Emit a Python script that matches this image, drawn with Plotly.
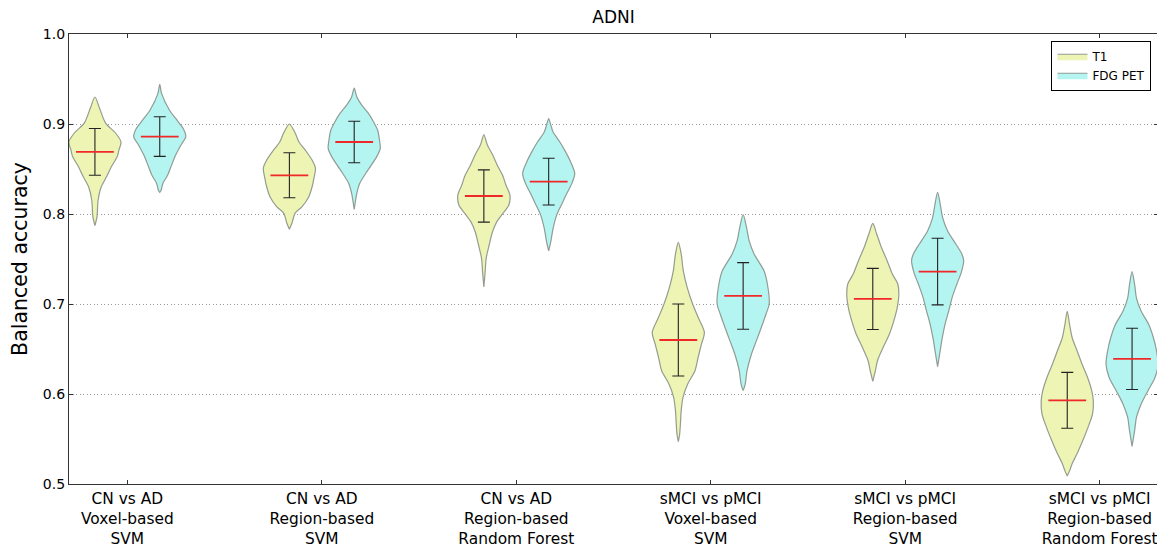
import plotly.graph_objects as go

# ---------------- data ----------------
CATEGORIES = [
    "CN vs AD<br>Voxel-based<br>SVM",
    "CN vs AD<br>Region-based<br>SVM",
    "CN vs AD<br>Region-based<br>Random Forest",
    "sMCI vs pMCI<br>Voxel-based<br>SVM",
    "sMCI vs pMCI<br>Region-based<br>SVM",
    "sMCI vs pMCI<br>Region-based<br>Random Forest",
]
SERIES = ["T1", "FDG PET"]

T1_MEAN = [0.869, 0.843, 0.820, 0.660, 0.7056, 0.593]
T1_STD = [0.026, 0.025, 0.029, 0.040, 0.034, 0.031]
FDG_MEAN = [0.886, 0.880, 0.836, 0.709, 0.736, 0.639]
FDG_STD = [0.022, 0.023, 0.026, 0.037, 0.037, 0.034]

# violin profiles: accuracy levels (top -> bottom) and relative density width
T1_PROFILE_Y = [
    [0.930, 0.919, 0.901, 0.890, 0.880, 0.871, 0.864, 0.853, 0.841, 0.830, 0.815, 0.797, 0.787],
    [0.900, 0.890, 0.880, 0.871, 0.860, 0.851, 0.841, 0.830, 0.819, 0.808, 0.801, 0.790, 0.783],
    [0.888, 0.877, 0.866, 0.854, 0.843, 0.832, 0.821, 0.810, 0.801, 0.791, 0.780, 0.765, 0.751, 0.736, 0.719],
    [0.7685, 0.7556, 0.737, 0.7185, 0.700, 0.6852, 0.6685, 0.6556, 0.6407, 0.6259, 0.6111, 0.5963, 0.5815, 0.5667, 0.555, 0.547],
    [0.7896, 0.7778, 0.763, 0.7481, 0.7333, 0.7222, 0.7111, 0.6963, 0.6815, 0.6667, 0.6519, 0.637, 0.6259, 0.614],
    [0.6919, 0.6772, 0.6625, 0.6478, 0.6331, 0.6184, 0.6037, 0.5926, 0.5779, 0.5632, 0.5485, 0.5338, 0.5228, 0.5154, 0.5088],
]
T1_PROFILE_W = [
    [0, 0.16, 0.41, 0.79, 1.0, 0.92, 0.86, 0.64, 0.44, 0.24, 0.12, 0.08, 0],
    [0, 0.22, 0.37, 0.61, 0.87, 1.0, 0.95, 0.87, 0.74, 0.48, 0.22, 0.10, 0],
    [0, 0.13, 0.33, 0.52, 0.72, 0.85, 1.0, 0.96, 0.74, 0.49, 0.33, 0.20, 0.09, 0.05, 0],
    [0, 0.11, 0.19, 0.34, 0.55, 0.76, 1.0, 0.89, 0.76, 0.64, 0.36, 0.18, 0.11, 0.08, 0.05, 0],
    [0, 0.15, 0.33, 0.55, 0.75, 0.96, 1.0, 0.94, 0.81, 0.64, 0.40, 0.18, 0.10, 0],
    [0, 0.09, 0.19, 0.38, 0.57, 0.78, 0.94, 1.0, 0.97, 0.80, 0.60, 0.38, 0.19, 0.10, 0],
]
FDG_PROFILE_Y = [
    [0.944, 0.934, 0.9155, 0.904, 0.895, 0.886, 0.877, 0.866, 0.854, 0.843, 0.834, 0.826, 0.824],
    [0.940, 0.930, 0.921, 0.912, 0.9025, 0.893, 0.882, 0.873, 0.864, 0.854, 0.845, 0.834, 0.823, 0.805],
    [0.906, 0.899, 0.891, 0.880, 0.869, 0.858, 0.845, 0.834, 0.823, 0.812, 0.799, 0.784, 0.769, 0.759],
    [0.7993, 0.7852, 0.7704, 0.7556, 0.737, 0.7222, 0.700, 0.6889, 0.6741, 0.6593, 0.6444, 0.6259, 0.6111, 0.6037],
    [0.8241, 0.8111, 0.7963, 0.7815, 0.7667, 0.7556, 0.7481, 0.7352, 0.7222, 0.7074, 0.6926, 0.6778, 0.6593, 0.6481, 0.6304],
    [0.736, 0.7213, 0.7066, 0.6919, 0.6772, 0.6625, 0.6478, 0.633, 0.6184, 0.6037, 0.589, 0.5743, 0.5596, 0.5419],
]
FDG_PROFILE_W = [
    [0, 0.07, 0.37, 0.67, 0.90, 1.0, 0.82, 0.62, 0.45, 0.30, 0.12, 0.05, 0],
    [0, 0.10, 0.29, 0.54, 0.74, 0.90, 0.97, 1.0, 0.87, 0.65, 0.44, 0.21, 0.10, 0],
    [0, 0.08, 0.17, 0.43, 0.65, 0.84, 1.0, 0.89, 0.70, 0.52, 0.31, 0.17, 0.08, 0],
    [0, 0.13, 0.23, 0.42, 0.80, 0.93, 1.0, 0.88, 0.70, 0.51, 0.32, 0.15, 0.08, 0],
    [0, 0.10, 0.19, 0.38, 0.70, 0.93, 1.0, 0.91, 0.74, 0.56, 0.43, 0.29, 0.16, 0.10, 0],
    [0, 0.10, 0.17, 0.35, 0.64, 0.82, 0.94, 1.0, 0.88, 0.61, 0.35, 0.17, 0.10, 0],
]
Y_TICKS = [0.5, 0.6, 0.7, 0.8, 0.9, 1.0]
Y_TICK_TEXT = ["0.5", "0.6", "0.7", "0.8", "0.9", "1.0"]

# ---------------- styling ----------------
FONT = "DejaVu Sans, Liberation Sans, sans-serif"
OFFSET = 1 / 6          # distance of each violin from group tick
HALF_WIDTH = 0.134      # maximal violin half width (x units)
FILL = {"T1": "rgb(238,245,180)", "FDG PET": "rgb(180,245,242)"}
EDGE = "rgba(130,140,130,0.85)"

# the page body has an 8px default margin, so the figure is sized to fill
# the 1165x549 window exactly from (8, 8)
FIG_W, FIG_H = 1157, 541

fig = go.Figure()

series_data = [
    ("T1", -OFFSET, T1_MEAN, T1_STD, T1_PROFILE_Y, T1_PROFILE_W),
    ("FDG PET", OFFSET, FDG_MEAN, FDG_STD, FDG_PROFILE_Y, FDG_PROFILE_W),
]

for name, off, means, stds, prof_y, prof_w in series_data:
    for i in range(len(CATEGORIES)):
        pos = i + 1 + off
        ys = prof_y[i]
        ws = prof_w[i]
        xs_right = [pos + w * HALF_WIDTH for w in ws]
        xs_left = [pos - w * HALF_WIDTH for w in ws[::-1]]
        fig.add_trace(go.Scatter(
            x=xs_right + xs_left,
            y=ys + ys[::-1],
            mode="lines",
            fill="toself",
            fillcolor=FILL[name],
            line=dict(color=EDGE, width=1.2, shape="spline", smoothing=0.8),
            name=name,
            legendgroup=name,
            showlegend=False,
            hoverinfo="skip",
        ))

# legend-only patches
for name in SERIES:
    fig.add_trace(go.Scatter(
        x=[None], y=[None],
        mode="lines",
        fill="toself",
        fillcolor=FILL[name],
        line=dict(color=EDGE, width=1.2),
        name=name,
        legendgroup=name,
        showlegend=True,
        hoverinfo="skip",
    ))

# error bars (std)
for name, off, means, stds, prof_y, prof_w in series_data:
    fig.add_trace(go.Scatter(
        x=[i + 1 + off for i in range(len(CATEGORIES))],
        y=means,
        mode="markers",
        marker=dict(size=1, color="rgba(0,0,0,0)"),
        error_y=dict(type="data", array=stds, visible=True, color="#222222",
                     thickness=1.1, width=6),
        showlegend=False,
        hoverinfo="skip",
    ))

# means (red)
for name, off, means, stds, prof_y, prof_w in series_data:
    fig.add_trace(go.Scatter(
        x=[i + 1 + off for i in range(len(CATEGORIES))],
        y=means,
        mode="markers",
        marker=dict(symbol="line-ew", size=27,
                    line=dict(color="rgb(240,40,40)", width=1.8)),
        showlegend=False,
        hoverinfo="skip",
    ))

fig.update_layout(
    width=FIG_W,
    height=FIG_H,
    margin=dict(l=61, r=7, t=26, b=65, autoexpand=False),
    paper_bgcolor="white",
    plot_bgcolor="white",
    font=dict(family=FONT, color="black", size=15),
    title=dict(text="ADNI", x=0.5, xref="paper", xanchor="center",
               y=1 - 9 / FIG_H, yref="container", yanchor="middle",
               font=dict(size=17, family=FONT, color="black")),
    legend=dict(
        x=0.994, y=0.985, xanchor="right", yanchor="top",
        bordercolor="black", borderwidth=1, bgcolor="white",
        font=dict(size=12, family=FONT),
        itemwidth=30, tracegroupgap=0,
    ),
    showlegend=True,
)

fig.update_xaxes(
    range=[0.7, 6.3],
    tickmode="array",
    tickvals=list(range(1, len(CATEGORIES) + 1)),
    ticktext=CATEGORIES,
    ticks="inside", ticklen=4, tickcolor="#333333",
    showline=True, linecolor="#333333", linewidth=1.3, mirror="ticks",
    showgrid=False, zeroline=False, automargin=False,
    tickfont=dict(size=15.4, family=FONT),
)
fig.update_yaxes(
    range=[0.5, 1.0],
    tickmode="array",
    tickvals=Y_TICKS,
    ticktext=Y_TICK_TEXT,
    ticks="inside", ticklen=4, tickcolor="#333333",
    showline=True, linecolor="#333333", linewidth=1.3, mirror="ticks",
    showgrid=True, gridcolor="#999999", griddash="1px,2.5px", gridwidth=1,
    zeroline=False, automargin=False,
    tickfont=dict(size=14, family=FONT),
    title=dict(text="Balanced accuracy", font=dict(size=20.5, family=FONT), standoff=12),
)

fig.write_html("out.html")
